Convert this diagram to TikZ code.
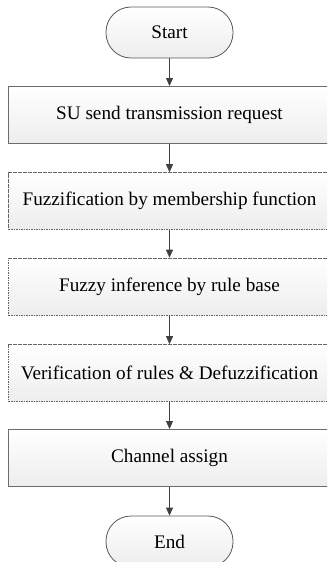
\documentclass[tikz,border=0pt]{standalone}
\usepackage{fontspec}
\setmainfont{Liberation Serif}
\usetikzlibrary{arrows.meta,positioning}
\begin{document}
\begin{tikzpicture}[x=1pt,y=-1pt,
  every node/.style={font=\fontsize{19.2}{22}\selectfont, text=black},
  solidbox/.style={draw=gray!85!black, line width=1pt, top color=white, bottom color=gray!14, minimum width=322pt, minimum height=57pt, inner sep=0pt},
  dashbox/.style={draw=gray!80!black, dashed, dash pattern=on 1.6pt off 0.9pt, line width=0.6pt, top color=white, bottom color=gray!14, minimum width=322pt, minimum height=57pt, inner sep=0pt},
  term/.style={draw=gray!70!black, line width=0.8pt, top color=white, bottom color=gray!14, rounded corners=25pt, minimum width=127pt, minimum height=51pt, inner sep=0pt},
  flow/.style={draw=black!75, line width=0.8pt, -{Triangle[length=8pt,width=7pt]}}]
\useasboundingbox (0,0) rectangle (327,562);
\clip (0,0) rectangle (327,562);
\node[term] (start) at (169.5,32.5) {Start};
\node[solidbox] (b1) at (169.5,115) {SU send transmission request};
\node[dashbox] (b2) at (169.5,201) {Fuzzification by membership function};
\node[dashbox] (b3) at (169.5,286.5) {Fuzzy inference by rule base};
\node[dashbox] (b4) at (169.5,373) {Verification of rules \& Defuzzification};
\node[solidbox] (b5) at (169.5,458) {Channel assign};
\node[term] (end) at (169.5,541.5) {End};
\draw[flow] (start) -- (b1);
\draw[flow] (b1) -- (b2);
\draw[flow] (b2) -- (b3);
\draw[flow] (b3) -- (b4);
\draw[flow] (b4) -- (b5);
\draw[flow] (b5) -- (end);
\end{tikzpicture}
\end{document}
